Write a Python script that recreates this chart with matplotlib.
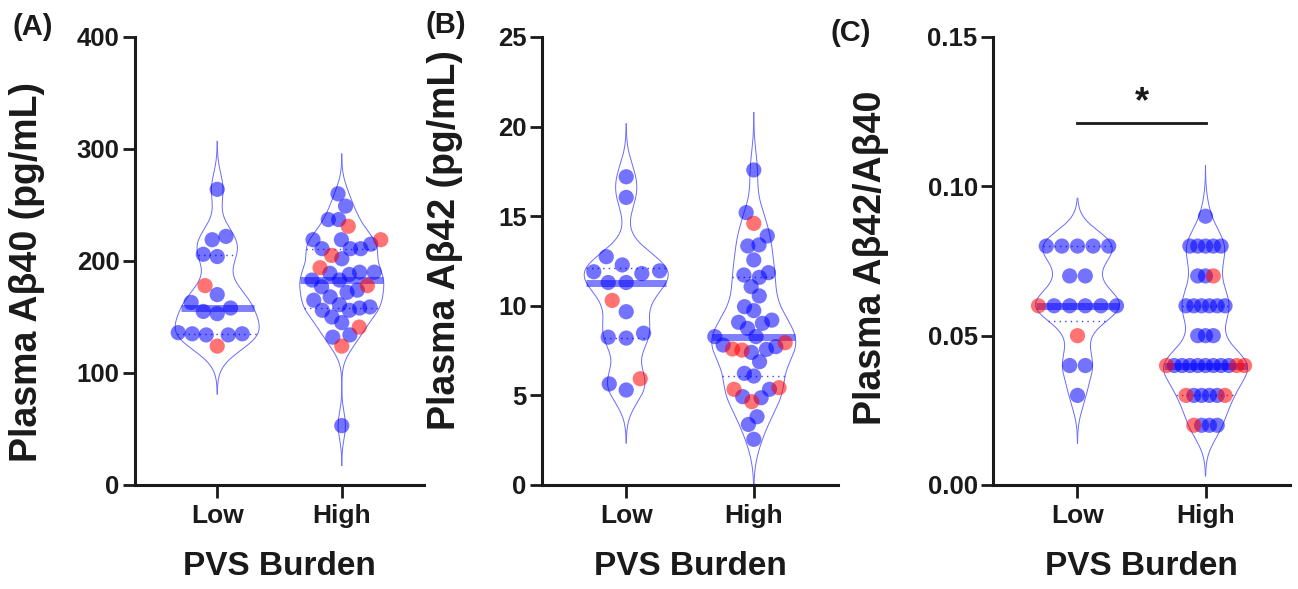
import numpy as np
import matplotlib
matplotlib.use('Agg')
import matplotlib.pyplot as plt

# ---------------- data ----------------
categories = ['Low', 'High']

a40_low_blue = [264, 222, 219, 206, 204, 170, 163, 158, 155, 153, 136, 135, 135, 134, 134]
a40_low_red = [178, 124]
a40_high_blue = [260, 249, 237, 237, 219, 219, 215, 211, 211, 211, 202, 190, 190, 189, 188,
                 183, 183, 177, 174, 172, 168, 165, 161, 159, 158, 156, 156, 150, 145, 134, 132, 53]
a40_high_red = [231, 219, 205, 194, 178, 141, 124]

a42_low_blue = [17.2, 16.05, 12.74, 12.28, 11.9, 11.8, 11.95, 11.3, 11.3, 9.67, 8.2, 8.25, 8.47, 5.3, 5.64]
a42_low_red = [10.3, 5.93]
a42_high_blue = [17.58, 15.2, 13.9, 13.34, 13.4, 12.56, 11.59, 11.85, 11.72, 11.07, 10.55, 9.95, 9.73,
                 9.02, 9.08, 9.2, 8.74, 8.28, 8.28, 7.81, 7.57, 7.72, 7.4, 6.88, 6.08, 6.23, 5.34, 4.93,
                 4.87, 3.81, 3.38, 2.55]
a42_high_red = [14.6, 7.53, 7.59, 7.94, 5.43, 5.34, 4.65]

ratio_low_blue = [0.08, 0.08, 0.08, 0.08, 0.08, 0.07, 0.07, 0.06, 0.06, 0.06, 0.06, 0.06,
                  0.04, 0.04, 0.03]
ratio_low_red = [0.06, 0.05]
ratio_high_blue = [0.09, 0.08, 0.08, 0.08, 0.08, 0.08, 0.07, 0.07, 0.06, 0.06, 0.06, 0.06, 0.06, 0.06,
                   0.05, 0.05, 0.05, 0.04, 0.04, 0.04, 0.04, 0.04, 0.04, 0.04, 0.04,
                   0.03, 0.03, 0.03, 0.03, 0.02, 0.02, 0.02]
ratio_high_red = [0.07, 0.04, 0.04, 0.04, 0.03, 0.03, 0.02]

ylabels = ['Plasma A\u03b240 (pg/mL)', 'Plasma A\u03b242 (pg/mL)', 'Plasma A\u03b242/A\u03b240']
panel_tags = ['(A)', '(B)', '(C)']
yticks_a = [0, 100, 200, 300, 400]
yticks_b = [0, 5, 10, 15, 20, 25]
yticks_c = [0.00, 0.05, 0.10, 0.15]
ytick_labels_c = ['0.00', '0.05', '0.10', '0.15']
xlabel = 'PVS Burden'
sig_text = '*'
sig_level = 0.1213

# ---------------- style ----------------
plt.rcParams['font.family'] = ['Liberation Sans', 'DejaVu Sans']
plt.rcParams['font.weight'] = 'bold'
TXT = '#1a1a1a'
BLUE = '#0000ff'
RED = '#ff0000'

W, H = 1298, 589
fig = plt.figure(figsize=(W / 100, H / 100), dpi=100)
TOP, BOT = 37, 485
XLIM = (-0.66, 1.66)
VIOLIN_HALF_PX = 42
D_PX = 18.0
MAXHALF_PX = 39.0


def add_axes_px(left, right):
    return fig.add_axes([left / W, (H - BOT) / H, (right - left) / W, (BOT - TOP) / H])


def silverman(v):
    v = np.asarray(v, float)
    n = len(v)
    sd = v.std(ddof=1)
    q75, q25 = np.percentile(v, [75, 25])
    iqr = (q75 - q25) / 1.34
    s = min(sd, iqr) if iqr > 0 else sd
    return 0.9 * s * n ** -0.2


def kde(v, grid, bw):
    v = np.asarray(v, float)
    z = (grid[:, None] - v[None, :]) / bw
    return np.exp(-0.5 * z ** 2).sum(axis=1)


def swarm(vals, ppy):
    vals = np.asarray(vals, float)
    ypx = vals * ppy
    xs = np.zeros(len(vals))
    order = np.argsort(vals, kind='stable')
    placed = []
    for i in order:
        neigh = [j for j in placed if abs(ypx[j] - ypx[i]) < D_PX]
        cands = [0.0]
        for j in neigh:
            dx = np.sqrt(max(D_PX ** 2 - (ypx[j] - ypx[i]) ** 2, 0))
            cands += [xs[j] - dx, xs[j] + dx]
        cands = sorted(set(cands), key=lambda c: (round(abs(c), 6), c))
        for c in cands:
            if all((xs[j] - c) ** 2 + (ypx[j] - ypx[i]) ** 2 >= D_PX ** 2 - 1e-6 for j in neigh):
                xs[i] = c
                break
        placed.append(i)
    # recentre isolated rows of identical values
    for u in np.unique(vals):
        idx = np.where(vals == u)[0]
        others = np.where((vals != u) & (np.abs(ypx - u * ppy) < D_PX))[0]
        if len(idx) > 1 and len(others) == 0:
            xs[idx] -= xs[idx].mean()
    m = np.abs(xs).max()
    if m > MAXHALF_PX:
        xs *= MAXHALF_PX / m
    return xs


def draw_panel(ax, groups, ylim, yticks, yticklabels, ylab, width_px):
    ppx = width_px / (XLIM[1] - XLIM[0])
    ppy = (BOT - TOP) / (ylim[1] - ylim[0])
    half_units = VIOLIN_HALF_PX / ppx
    for gi, (blue, red) in enumerate(groups):
        vals = np.array(list(blue) + list(red), float)
        cols = [BLUE] * len(blue) + [RED] * len(red)
        bw = 0.7 * silverman(vals)
        grid = np.linspace(vals.min() - 3 * bw, vals.max() + 3 * bw, 600)
        dens = kde(vals, grid, bw)
        half = dens / dens.max() * half_units
        ax.plot(gi + half, grid, color='#6a6aff', lw=0.7, zorder=2)
        ax.plot(gi - half, grid, color='#6a6aff', lw=0.7, zorder=2)
        med = np.median(vals)
        q1, q3 = np.percentile(vals, [25, 75], method='weibull')
        for q in (q1, q3):
            hq = np.interp(q, grid, half)
            ax.plot([gi - hq, gi + hq], [q, q], color='#4040ff', lw=1.0, ls=(0, (1, 3)), zorder=2)
        hm = np.interp(med, grid, half)
        ax.plot([gi - hm, gi + hm], [med, med], color=BLUE, alpha=0.5, lw=5,
                solid_capstyle='butt', zorder=3)
        xs = swarm(vals, ppy) / ppx
        for x, y, c in zip(xs, vals, cols):
            ax.scatter(gi + x, y, s=120, color=c, alpha=0.55, edgecolors='none', zorder=4)
    ax.set_xlim(*XLIM)
    ax.set_ylim(*ylim)
    ax.set_xticks([0, 1])
    ax.set_xticklabels(categories, fontsize=19, fontweight='bold', color=TXT)
    ax.set_yticks(yticks)
    ax.set_yticklabels(yticklabels, fontsize=18.5, fontweight='bold', color=TXT)
    for s in ('top', 'right'):
        ax.spines[s].set_visible(False)
    for s in ('left', 'bottom'):
        ax.spines[s].set_linewidth(2.2)
        ax.spines[s].set_color(TXT)
    ax.tick_params(axis='both', length=9, width=2, color=TXT)
    ax.tick_params(axis='y', pad=2)
    ax.tick_params(axis='x', pad=5)
    ax.set_xlabel(xlabel, fontsize=24, fontweight='bold', color=TXT)
    ax.set_ylabel(ylab, fontsize=27, fontweight='bold', color=TXT)


panels = [
    (135, 424, [(a40_low_blue, a40_low_red), (a40_high_blue, a40_high_red)], (0, 400),
     yticks_a, [str(t) for t in yticks_a], 45, 272),
    (542, 838, [(a42_low_blue, a42_low_red), (a42_high_blue, a42_high_red)], (0, 25),
     yticks_b, [str(t) for t in yticks_b], 463, 240),
    (993, 1290, [(ratio_low_blue, ratio_low_red), (ratio_high_blue, ratio_high_red)], (0, 0.15),
     yticks_c, ytick_labels_c, 889, 258),
]
tag_pos = [(33, 27), (446, 25), (851, 33)]

axes = []
for k, (l, r, groups, ylim, yt, ytl, ylab_x, ylab_y) in enumerate(panels):
    ax = add_axes_px(l, r)
    draw_panel(ax, groups, ylim, yt, ytl, ylabels[k], r - l)
    ax.yaxis.set_label_coords((ylab_x - l) / (r - l), (BOT - ylab_y) / (BOT - TOP))
    ax.xaxis.set_label_coords(0.5, -(551 - BOT) / (BOT - TOP))
    fig.text(tag_pos[k][0] / W, 1 - tag_pos[k][1] / H, panel_tags[k], fontsize=21,
             fontweight='bold', color=TXT, ha='center', va='center')
    axes.append(ax)

axc = axes[2]
axc.plot([0, 1], [sig_level, sig_level], color=TXT, lw=2)
axc.text(0.5, sig_level + 0.001, sig_text, ha='center', va='bottom', fontsize=26,
         fontweight='bold', color=TXT)

fig.savefig('out.png', dpi=100)
